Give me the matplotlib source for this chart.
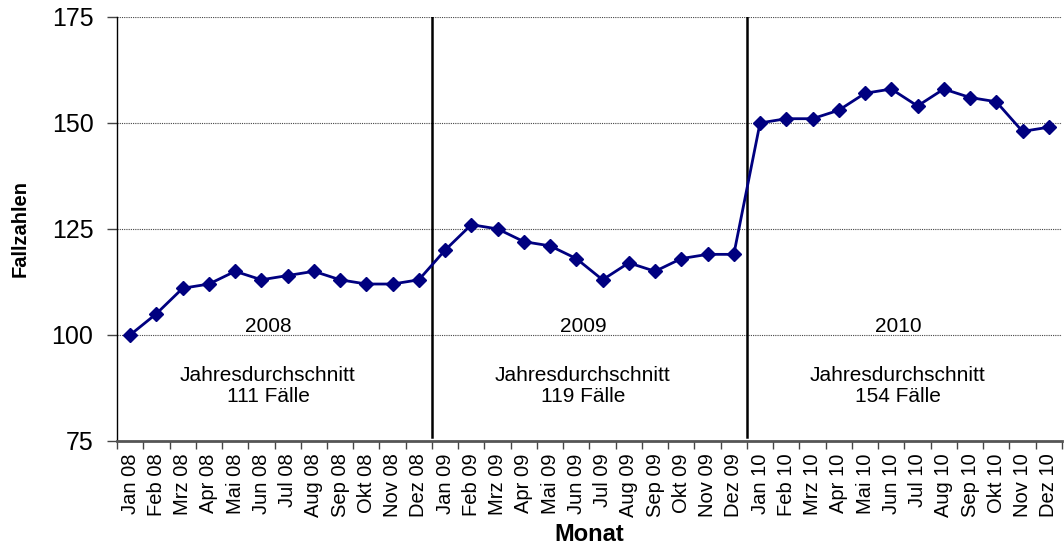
import matplotlib
matplotlib.use("Agg")
import matplotlib.pyplot as plt
import numpy as np

plt.rcParams['font.family'] = ['Liberation Sans', 'DejaVu Sans']

# monthly case numbers
months = ['Jan', 'Feb', 'Mrz', 'Apr', 'Mai', 'Jun', 'Jul', 'Aug', 'Sep', 'Okt', 'Nov', 'Dez']
years = ['08', '09', '10']
labels = [f'{m} {y}' for y in years for m in months]

cases_2008 = [100, 105, 111, 112, 115, 113, 114, 115, 113, 112, 112, 113]
cases_2009 = [120, 126, 125, 122, 121, 118, 113, 117, 115, 118, 119, 119]
cases_2010 = [150, 151, 151, 153, 157, 158, 154, 158, 156, 155, 148, 149]
values = cases_2008 + cases_2009 + cases_2010

year_names = ['2008', '2009', '2010']
year_avg = [111, 119, 154]

fig = plt.figure(figsize=(10.64, 5.47), dpi=100)
ax = fig.add_axes([0.11, 0.194, 0.888, 0.775])

x = np.arange(len(values))
ax.plot(x, values, color='#000080', lw=2, marker='D', markersize=7.5, zorder=3)

ax.set_xlim(-0.5, len(values) - 0.5)
ax.set_ylim(75, 175)
ax.set_yticks([75, 100, 125, 150, 175])
ax.yaxis.grid(True, color='#444444', linestyle=(0, (1, 1)), lw=0.8)
ax.set_axisbelow(True)

# category labels centered, tick marks on category boundaries
ax.set_xticks(x)
ax.set_xticklabels(labels, rotation=90, fontsize=14.5)
ax.set_xticks(np.arange(-0.5, len(values), 1), minor=True)
ax.tick_params(axis='x', which='major', length=0, pad=9)
ax.tick_params(axis='x', which='minor', length=6, width=1, color='#444444')
ax.tick_params(axis='y', length=7, width=1, color='#444444', labelsize=18, pad=10)

for side in ['top', 'right']:
    ax.spines[side].set_visible(False)
ax.spines['left'].set_color('black')
ax.spines['left'].set_linewidth(1)
ax.spines['bottom'].set_color('#555555')
ax.spines['bottom'].set_linewidth(2)

# year separators and annotations
for i, (name, avg) in enumerate(zip(year_names, year_avg)):
    if i > 0:
        ax.axvline(i * 12 - 0.5, ymin=0.01, ymax=1, color='black', lw=1.8, zorder=2)
    cx = i * 12 + 5.5 - 0.25
    ax.text(cx, 102, name, ha='center', va='center', fontsize=15)
    ax.text(cx, 88, f'Jahresdurchschnitt\n{avg} Fälle', ha='center', va='center',
            fontsize=15, linespacing=1.15)

ax.set_ylabel('Fallzahlen', fontsize=14.5, fontweight='bold', labelpad=16)
ax.set_xlabel('Monat', fontsize=17, fontweight='bold', labelpad=4)

fig.savefig('out.png', dpi=100)
